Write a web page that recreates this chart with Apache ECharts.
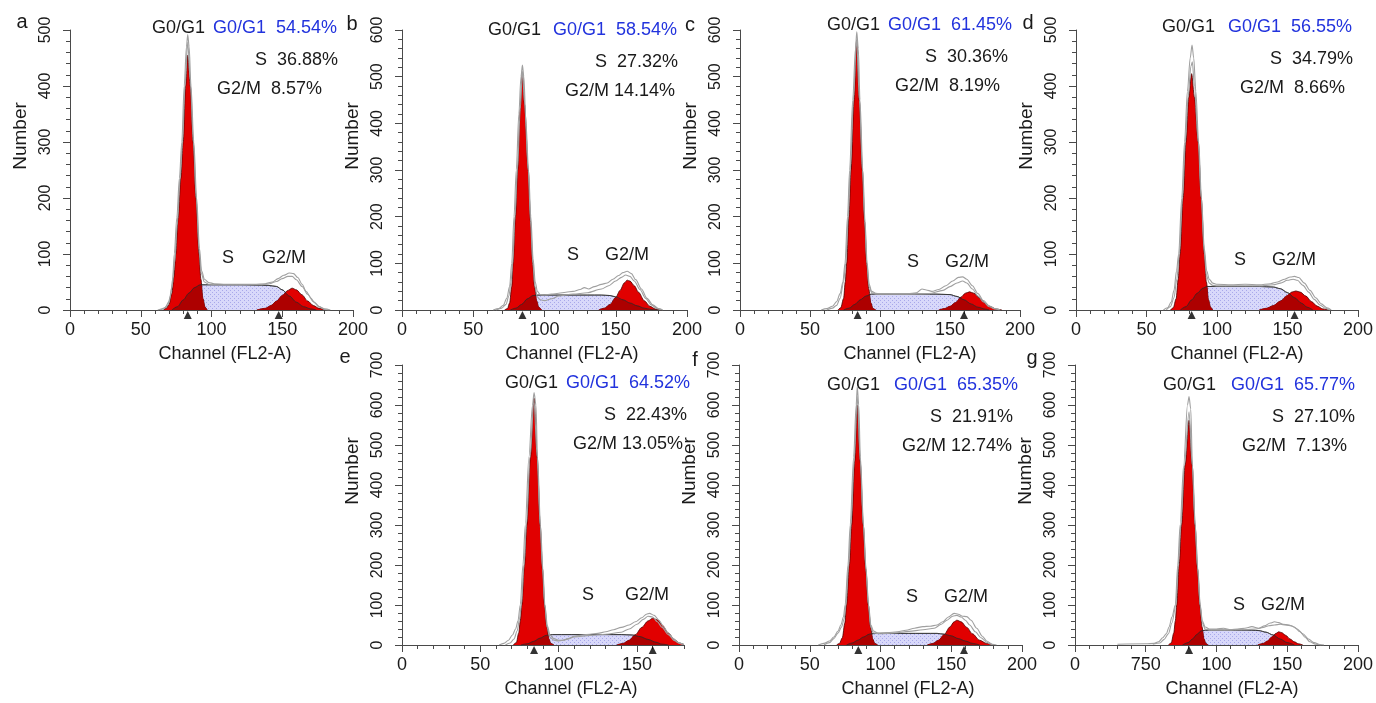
<!DOCTYPE html>
<html>
<head>
<meta charset="utf-8">
<title>Cell cycle histograms</title>
<script src="https://cdn.jsdelivr.net/npm/echarts@6/dist/echarts.min.js"></script>
<style>
  html, body { margin: 0; padding: 0; background: #fff; }
  #chart { width: 1376px; height: 703px; }
</style>
</head>
<body>
<div id="chart"></div>
<script>
// ---- data (channel, count) ----
const panels = ['a', 'b', 'c', 'd', 'e', 'f', 'g'];
const xMax = [200, 200, 200, 200, 180, 200, 200];
const yMax = [500, 600, 600, 500, 700, 700, 700];

const xTickValues = [
  [0, 50, 100, 150, 200], [0, 50, 100, 150, 200], [0, 50, 100, 150, 200], [0, 50, 100, 150, 200],
  [0, 50, 100, 150], [0, 50, 100, 150, 200], [0, 50, 100, 150, 200]
];
const xTickLabels = [
  ['0', '50', '100', '150', '200'], ['0', '50', '100', '150', '200'], ['0', '50', '100', '150', '200'],
  ['0', '50', '100', '150', '200'], ['0', '50', '100', '150'], ['0', '50', '100', '150', '200'],
  ['0', '750', '100', '150', '200']
];

const g1Pct = ['54.54%', '58.54%', '61.45%', '56.55%', '64.52%', '65.35%', '65.77%'];
const sPct  = ['36.88%', '27.32%', '30.36%', '34.79%', '22.43%', '21.91%', '27.10%'];
const g2Pct = ['8.57%', '14.14%', '8.19%', '8.66%', '13.05%', '12.74%', '7.13%'];

// G0/G1 fitted peak
const g1Curves = [
  [[66,0],[68,3],[70,10],[72,30],[73.5,60],[74.7,100],[76.5,165],[78.3,235],[80,300],[81.7,400],[83.2,455],[85,400],[87,300],[89,200],[91.2,100],[92.5,55],[94,20],[95.5,5],[97,0]],
  [[72,0],[74,3],[75.5,15],[77,50],[78,100],[79.6,200],[81.2,300],[83,430],[84.5,510],[86,440],[88.6,300],[90.2,190],[91.7,100],[93,50],[94.5,20],[96,6],[98,0]],
  [[70,0],[72,5],[74,25],[75.2,60],[76.2,100],[77.8,200],[79.3,300],[81.5,450],[83.3,578],[85.2,450],[87.4,300],[89,190],[90.5,100],[92,45],[93.5,15],[95,3],[97,0]],
  [[67,0],[69,4],[71,20],[72.5,55],[73.8,100],[76,200],[78,300],[80,380],[82,422],[84,380],[86.7,300],[88.8,200],[91,100],[92.5,50],[94,18],[95.5,5],[97,0]],
  [[71,0],[73,6],[74.5,30],[75.5,60],[76.5,100],[78.2,200],[79.7,300],[82,470],[84.3,617],[86.3,470],[88.2,300],[89.7,190],[91,100],[92.5,45],[93.8,15],[95,4],[97,0]],
  [[69,0],[71,4],[73,18],[74.8,55],[76,100],[78,200],[79.6,300],[81.8,460],[83.6,600],[85.6,460],[87.8,300],[89.6,190],[91.4,100],[93,45],[94.5,15],[96,4],[98,0]],
  [[66,0],[68,5],[69.8,30],[70.9,60],[71.9,100],[73.6,200],[75.3,300],[77.8,450],[80.6,562],[82.8,450],[84.8,300],[86.6,190],[88.3,100],[89.8,45],[91.2,15],[92.5,4],[94,0]]
];

// S phase model
const sCurves = [
  [[72,0],[76,6],[80,18],[84,30],[88,40],[92,45],[100,45],[120,45],[140,44],[146,42],[150,36],[155,25],[160,14],[165,6],[170,2],[174,0]],
  [[76,0],[80,4],[84,12],[88,24],[92,31],[96,32],[120,32],[140,32],[146,31],[150,28],[155,22],[160,15],[165,9],[170,4],[175,1],[180,0]],
  [[74,0],[78,4],[82,12],[86,22],[90,30],[94,34],[120,34],[140,34],[150,33],[155,29],[160,22],[165,13],[170,6],[175,2],[178,0]],
  [[74,0],[78,6],[82,18],[86,30],[90,39],[93,42],[110,42],[130,42],[140,41],[145,38],[150,31],[155,22],[160,12],[164,5],[168,0]],
  [[76,0],[80,3],[84,9],[88,17],[92,24],[96,26],[120,26],[140,26],[147,25],[152,21],[157,14],[162,7],[166,2],[170,0]],
  [[76,0],[80,5],[84,12],[88,20],[92,27],[96,29],[120,29],[140,29],[145,27],[150,23],[155,16],[160,10],[165,4],[170,0]],
  [[76,0],[80,6],[83,15],[86,26],[89,35],[92,37],[110,37],[125,37],[130,36],[135,32],[140,25],[145,15],[150,6],[155,0]]
];

// G2/M fitted peak
const g2Curves = [
  [[132,0],[138,3],[142,8],[146,16],[150,26],[154,35],[157,39],[160,36],[164,27],[168,16],[172,8],[176,3],[180,0]],
  [[138,0],[142,4],[146,12],[150,27],[153,42],[156,58],[158,64],[160,62],[163,52],[166,38],[170,20],[174,8],[178,2],[182,0]],
  [[142,0],[146,3],[150,8],[154,16],[158,28],[161,36],[164,39],[167,36],[171,26],[175,15],[179,7],[183,2],[187,0]],
  [[130,0],[135,3],[140,8],[145,16],[150,26],[153,32],[156,34],[159,32],[163,25],[167,15],[171,7],[175,2],[179,0]],
  [[137,0],[141,4],[145,12],[149,26],[153,44],[157,60],[160,67],[163,63],[166,50],[170,30],[174,13],[177,5],[180,1]],
  [[133,0],[137,4],[141,12],[145,26],[149,45],[152,58],[154,62],[157,58],[161,44],[165,28],[170,12],[175,4],[180,0]],
  [[129,0],[133,4],[136,10],[139,20],[142,29],[144,33],[146,31],[149,24],[152,15],[155,8],[158,3],[161,0]]
];

// where the S model meets the G0/G1 and G2/M peaks
const crossLeft  = [[92.9,45],[93.9,32],[92.5,34],[92.9,42],[93.3,26],[93.8,29],[90.2,36]];
const crossRight = [[152.3,31],[150.2,28],[157.3,25.8],[151.4,28.8],[148.6,24.4],[145.3,26.8],[140.5,24.5]];

// measured histogram traces (grey)
const greyUpper = [
  [[62,0],[66,2],[69,8],[71,25],[72.5,55],[73.7,100],[75.5,165],[77.3,235],[79,300],[80.7,400],[82.3,470],[83.2,492],[84.2,470],[85.5,400],[87.5,300],[89.5,200],[91.5,110],[93,70],[95,55],[98,49],[102,47],[110,46],[120,46],[130,46],[138,47],[143,50],[147,56],[151,62],[155,66],[158,65],[161,58],[164,46],[167,33],[170,22],[173,13],[176,6],[180,2],[184,0]],
  [[64,0],[68,3],[71,10],[73.5,25],[75.5,50],[77,100],[78.6,200],[80.2,300],[82,420],[83.5,500],[84.5,525],[85.5,500],[87,400],[88.8,300],[90.4,200],[92,110],[93.5,60],[95,40],[97,33],[100,32],[105,34],[110,36],[115,38],[120,40],[125,44],[128,48],[131,45],[135,50],[140,55],[144,58],[148,66],[152,74],[155,80],[158,83],[161,78],[164,65],[168,45],[172,25],[176,11],[180,3],[183,0]],
  [[58,0],[62,3],[66,8],[69,18],[71.5,35],[73.5,60],[75,100],[76.8,200],[78.3,300],[80.5,450],[82.5,560],[83.4,596],[84.5,560],[85.7,450],[87.7,300],[89.3,190],[90.8,100],[92.3,55],[94,40],[97,36],[100,35],[110,35],[120,35],[126,37],[130,45],[133,43],[137,40],[142,44],[147,52],[152,62],[156,70],[159,71],[162,66],[166,52],[170,35],[174,20],[178,9],[182,3],[186,0]],
  [[62,0],[65,4],[67.5,14],[69.5,35],[71.3,70],[72.8,100],[75,200],[77,300],[79,390],[81,450],[82.3,473],[83.5,450],[85,390],[87,300],[89,200],[91,110],[92.7,70],[94.5,55],[97,48],[100,46],[110,45],[120,46],[130,45],[138,47],[143,50],[148,55],[152,59],[155,60],[158,58],[162,48],[166,35],[170,22],[174,11],[178,4],[181,0]],
  [[62,0],[65,4],[68,12],[70.5,25],[72.5,40],[74,60],[75.5,100],[77.2,200],[78.7,300],[81,470],[83.3,600],[84.3,631],[85.5,600],[86.5,470],[88.4,300],[89.9,190],[91.2,100],[92.8,48],[94.5,25],[97,16],[100,12],[103,12],[106,16],[110,22],[115,25],[120,27],[125,29],[130,33],[135,38],[140,44],[145,50],[149,58],[153,68],[156,77],[158,79],[161,74],[164,62],[167,45],[170,30],[173,17],[176,6],[180,1]],
  [[56,0],[60,4],[64,10],[67,20],[70,35],[72,50],[73.8,70],[75,100],[77,200],[78.6,300],[81,470],[82.8,600],[83.6,646],[84.6,600],[85.8,470],[88,300],[89.8,190],[91.6,100],[93.2,50],[95,35],[98,30],[105,31],[112,33],[118,37],[124,42],[130,46],[135,47],[140,50],[144,58],[148,70],[152,79],[155,77],[158,72],[161,71],[164,62],[168,42],[172,22],[175,10],[179,2],[182,0]],
  [[30,2],[50,3],[56,4],[59,8],[62,18],[64.5,28],[66.5,45],[68.5,70],[70.9,100],[72.6,200],[74.3,300],[76.8,450],[79.5,600],[80.6,621],[81.8,590],[83,450],[85,300],[86.8,190],[88.5,100],[90,60],[92,45],[95,40],[100,40],[105,42],[110,38],[115,40],[120,42],[125,46],[130,42],[134,48],[138,55],[141,58],[144,56],[147,52],[151,50],[155,45],[159,33],[163,18],[166,8],[170,2],[174,0]]
];
const greyLower = [
  [[64,0],[67,4],[70,15],[72,40],[74,85],[75.7,150],[77.8,235],[79.5,300],[81.2,400],[83.2,478],[85,410],[87.2,300],[89.2,200],[91.3,105],[92.8,65],[95,50],[98,46],[105,45],[120,45],[135,45],[141,47],[146,51],[150,56],[154,60],[157,60],[160,54],[164,42],[168,28],[172,15],[176,6],[180,1],[183,0]],
  [[66,0],[70,4],[73,12],[75,30],[76.5,60],[77.7,100],[79.3,200],[81,300],[83,430],[84.5,512],[86,445],[88.6,300],[90.2,190],[91.8,100],[93.3,50],[95,28],[97,22],[100,20],[105,24],[110,30],[120,34],[130,37],[140,45],[145,52],[150,62],[154,70],[157,75],[160,72],[163,62],[167,44],[171,25],[175,11],[179,3],[182,0]],
  [[62,0],[66,4],[69,10],[71.5,25],[74,60],[75.5,100],[77.3,200],[78.8,300],[81,450],[83.3,580],[85.3,450],[87.5,300],[89.1,190],[90.6,100],[92.2,50],[94,37],[97,34],[100,34],[120,34],[135,35],[145,42],[150,50],[155,58],[159,62],[162,58],[166,45],[170,30],[174,17],[178,7],[182,2],[185,0]],
  [[64,0],[67,6],[69.5,22],[71.5,55],[73.3,100],[75.5,200],[77.5,300],[79.5,380],[81.5,435],[82.5,443],[84,400],[86.7,300],[88.8,200],[90.9,105],[92.5,62],[94.5,48],[97,44],[100,43],[115,43],[130,43],[140,45],[145,48],[150,53],[154,55],[157,53],[161,44],[165,32],[169,19],[173,9],[177,3],[180,0]],
  [[66,0],[69,5],[71.5,15],[73.5,35],[75,65],[76.2,100],[77.9,200],[79.4,300],[81.8,470],[84.2,612],[86.3,470],[88.2,300],[89.7,190],[91.1,100],[92.6,44],[94.3,20],[97,12],[100,10],[105,14],[110,20],[120,24],[130,27],[140,32],[145,40],[150,52],[154,64],[157,72],[160,70],[163,58],[166,44],[170,26],[174,11],[178,3],[180,1]],
  [[60,0],[64,6],[67,16],[70,30],[72.5,45],[74.3,65],[75.5,100],[77.5,200],[79.1,300],[81.4,460],[83.6,621],[85.7,460],[87.9,300],[89.7,190],[91.5,100],[93,45],[95,30],[100,28],[110,30],[120,34],[130,38],[138,42],[143,52],[147,62],[151,72],[154,74],[157,70],[160,62],[163,50],[167,33],[171,18],[175,7],[178,2],[180,0]],
  [[55,2],[60,5],[63,14],[66,28],[68.5,55],[71.3,100],[73,200],[74.8,300],[77.3,450],[80.6,583],[82.9,450],[84.9,300],[86.7,190],[88.4,100],[90,55],[92,40],[95,37],[105,37],[120,38],[128,40],[133,44],[137,48],[141,50],[145,52],[149,50],[153,48],[157,40],[161,28],[165,15],[169,6],[173,1],[176,0]]
];

// peak position markers (channel)
const peakMarkers = [[83.2, 147.5], [84.5], [84, 160], [82, 155], [84.3, 160], [84.3, 159], [80.6]];

// ---- layout (pixels) ----
const gridBoxes = [
  [70, 30, 283, 280], [402, 30, 285, 280], [740, 30, 280, 280], [1076, 30, 282, 280],
  [402, 365, 282, 280], [739, 365, 283, 280], [1075, 365, 283, 280]
];
// [black G0/G1 left, first line y, blue right, S right, G2/M right, low S x, low G2/M x, low y, letter x, letter y, axis name x]
const textPos = [
  [152, 28, 337, 338, 322, 228, 284, 258, 22, 22, 225],
  [488, 30, 677, 678, 675, 573, 627, 255, 352, 24, 572],
  [827, 25, 1012, 1008, 1000, 913, 967, 262, 690, 25, 910],
  [1162, 27, 1352, 1353, 1345, 1240, 1294, 260, 1028, 23, 1237],
  [505, 383, 690, 687, 683, 588, 647, 595, 345, 357, 571],
  [827, 385, 1018, 1013, 1012, 912, 966, 597, 695, 360, 908],
  [1163, 385, 1355, 1355, 1347, 1239, 1283, 605, 1032, 358, 1232]
];

const FONT = '"Liberation Sans", Arial, sans-serif';
const AXIS_COLOR = '#4a4a4a';
const RED = '#e10000';
const DARK_RED = '#ad0000';
const GREY = '#a0a0a0';

// light blue dotted fill for the S phase
const pattern = document.createElement('canvas');
pattern.width = 4;
pattern.height = 4;
const pctx = pattern.getContext('2d');
pctx.fillStyle = '#d8d8fa';
pctx.fillRect(0, 0, 4, 4);
pctx.fillStyle = '#a8a8ea';
pctx.fillRect(0, 0, 1, 1);
pctx.fillRect(2, 2, 1, 1);

const grids = [];
const xAxes = [];
const yAxes = [];
const series = [];
const graphics = [];

function text(str, x, y, opts) {
  return Object.assign({
    type: 'text',
    silent: true,
    style: Object.assign({
      text: str, x: x, y: y,
      fill: '#1a1a1a',
      font: '18px ' + FONT,
      align: 'left', textAlign: 'left',
      verticalAlign: 'middle', textVerticalAlign: 'middle'
    }, opts && opts.style)
  }, opts && opts.el);
}

function curve(i, name, data, z, extra) {
  return Object.assign({
    name: name,
    type: 'line',
    xAxisIndex: 2 * i,
    yAxisIndex: 2 * i,
    data: data,
    symbol: 'none',
    smooth: 0.3,
    smoothMonotone: 'x',
    z: z,
    silent: true,
    animation: false
  }, extra);
}

panels.forEach((p, i) => {
  const [left, top, width, height] = gridBoxes[i];
  grids.push({ left: left, top: top, width: width, height: height });

  const labelMap = {};
  xTickValues[i].forEach((v, k) => { labelMap[v] = xTickLabels[i][k]; });
  const yValues = [];
  for (let v = 0; v <= yMax[i]; v += 100) yValues.push(v);

  // main axes: line, minor ticks, labels
  xAxes.push({
    gridIndex: i, type: 'value', min: 0, max: xMax[i], interval: 10,
    axisLine: { show: true, onZero: false, lineStyle: { color: AXIS_COLOR, width: 1 } },
    axisTick: { show: true, length: 4, lineStyle: { color: AXIS_COLOR } },
    axisLabel: {
      customValues: xTickValues[i],
      formatter: v => labelMap[v],
      color: '#1a1a1a', fontSize: 18, fontFamily: FONT, margin: 11
    },
    splitLine: { show: false }
  });
  // second axis only for the longer major ticks
  xAxes.push({
    gridIndex: i, type: 'value', min: 0, max: xMax[i], position: 'bottom',
    axisLine: { show: false },
    axisTick: { show: true, length: 7, customValues: xTickValues[i], lineStyle: { color: AXIS_COLOR } },
    axisLabel: { show: false },
    splitLine: { show: false }
  });
  yAxes.push({
    gridIndex: i, type: 'value', min: 0, max: yMax[i], interval: 20,
    axisLine: { show: true, lineStyle: { color: AXIS_COLOR, width: 1 } },
    axisTick: { show: true, length: 4, lineStyle: { color: AXIS_COLOR } },
    axisLabel: {
      customValues: yValues, rotate: 90,
      color: '#1a1a1a', fontSize: 16, fontFamily: FONT, margin: 16
    },
    splitLine: { show: false }
  });
  yAxes.push({
    gridIndex: i, type: 'value', min: 0, max: yMax[i], position: 'left',
    axisLine: { show: false },
    axisTick: { show: true, length: 7, customValues: yValues, lineStyle: { color: AXIS_COLOR } },
    axisLabel: { show: false },
    splitLine: { show: false }
  });

  // overlap of the S model with each peak
  const xl = crossLeft[i][0];
  const overlapL = sCurves[i].filter(pt => pt[0] < xl)
    .concat([crossLeft[i]], g1Curves[i].filter(pt => pt[0] > xl));
  const xr = crossRight[i][0];
  const overlapR = g2Curves[i].filter(pt => pt[0] < xr)
    .concat([crossRight[i]], sCurves[i].filter(pt => pt[0] > xr));

  series.push(curve(i, 'S area', sCurves[i], 1, {
    lineStyle: { color: '#555', width: 0.8 },
    areaStyle: { color: { image: pattern, repeat: 'repeat' }, opacity: 1 }
  }));
  series.push(curve(i, 'G0/G1', g1Curves[i], 2, {
    lineStyle: { color: '#4a0000', width: 0.8 },
    areaStyle: { color: RED, opacity: 1 }
  }));
  series.push(curve(i, 'G2/M', g2Curves[i], 2, {
    lineStyle: { color: '#4a0000', width: 0.8 },
    areaStyle: { color: RED, opacity: 1 }
  }));
  series.push(curve(i, 'overlap L', overlapL, 3, {
    lineStyle: { width: 0 },
    areaStyle: { color: DARK_RED, opacity: 1 }
  }));
  series.push(curve(i, 'overlap R', overlapR, 3, {
    lineStyle: { width: 0 },
    areaStyle: { color: DARK_RED, opacity: 1 }
  }));
  series.push(curve(i, 'S', sCurves[i], 4, {
    lineStyle: { color: '#2a2a2a', width: 0.8 }
  }));
  series.push(curve(i, 'data', greyUpper[i], 5, {
    lineStyle: { color: GREY, width: 1.1 }
  }));
  series.push(curve(i, 'fit', greyLower[i], 5, {
    lineStyle: { color: GREY, width: 1.1 }
  }));
  series.push({
    name: 'markers', type: 'scatter', xAxisIndex: 2 * i, yAxisIndex: 2 * i,
    data: peakMarkers[i].map(x => [x, 0]),
    symbol: 'triangle', symbolSize: [8, 8], symbolOffset: [0, 5],
    itemStyle: { color: '#000' }, clip: false, z: 6, silent: true, animation: false
  });

  // annotations
  const t = textPos[i];
  const g2Text = 'G2/M' + (g2Pct[i].length > 5 ? ' ' : '  ') + g2Pct[i];
  graphics.push(text('G0/G1', t[0], t[1]));
  graphics.push(text('G0/G1  ' + g1Pct[i], t[2], t[1], { style: { fill: '#2233dd', align: 'right', textAlign: 'right' } }));
  graphics.push(text('S  ' + sPct[i], t[3], t[1] + 32, { style: { align: 'right', textAlign: 'right' } }));
  graphics.push(text(g2Text, t[4], t[1] + 61, { style: { align: 'right', textAlign: 'right' } }));
  graphics.push(text('S', t[5], t[7], { style: { align: 'center', textAlign: 'center' } }));
  graphics.push(text('G2/M', t[6], t[7], { style: { align: 'center', textAlign: 'center' } }));
  graphics.push(text(p, t[8], t[9], { style: { align: 'center', textAlign: 'center', font: '20px ' + FONT } }));
  graphics.push(text('Channel (FL2-A)', t[10], top + height + 44, { style: { align: 'center', textAlign: 'center' } }));
  graphics.push(text('Number', left - 49, top + 106, {
    style: { align: 'center', textAlign: 'center', font: '19px ' + FONT },
    el: { rotation: Math.PI / 2, originX: left - 49, originY: top + 106 }
  }));
});

const chart = echarts.init(document.getElementById('chart'), null, { renderer: 'canvas' });
chart.setOption({
  animation: false,
  backgroundColor: '#fff',
  grid: grids,
  xAxis: xAxes,
  yAxis: yAxes,
  series: series,
  graphic: { elements: graphics }
});
</script>
</body>
</html>
